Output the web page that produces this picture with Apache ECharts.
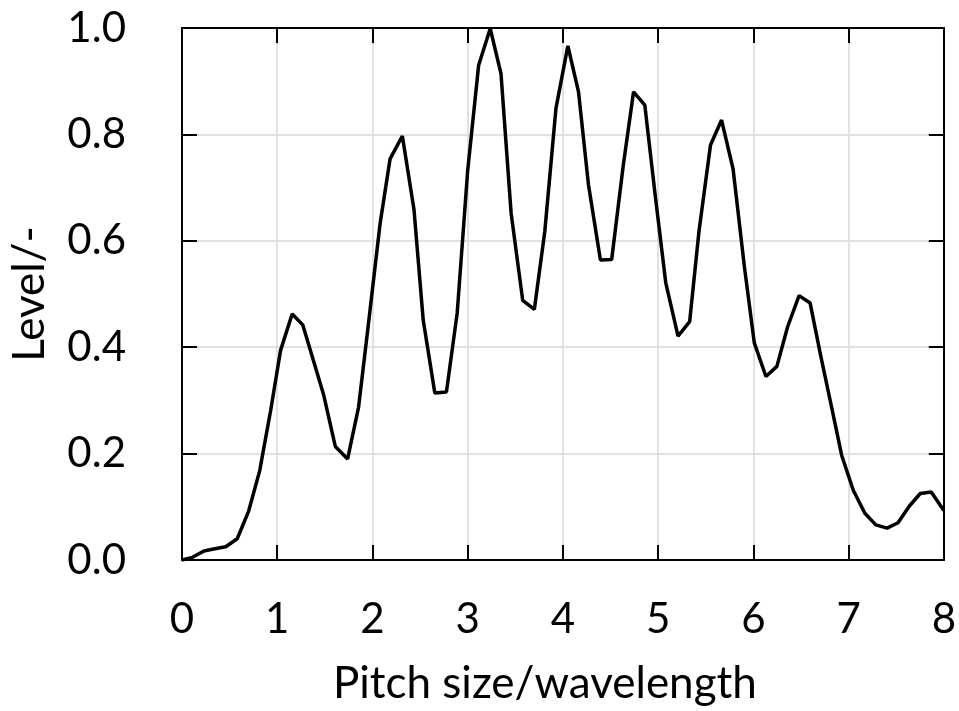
<!DOCTYPE html>
<html>
<head>
<meta charset="utf-8">
<script src="https://cdn.jsdelivr.net/npm/echarts@6/dist/echarts.min.js"></script>
<style>
  html, body { margin: 0; padding: 0; background: #fff; }
  #chart { width: 959px; height: 711px; }
</style>
</head>
<body>
<div id="chart"></div>
<script>
// pitch size / wavelength
const pitch = [
  0, 0.11, 0.23, 0.345, 0.46, 0.58, 0.70, 0.815, 0.93, 1.035,
  1.157, 1.268, 1.38, 1.488, 1.61, 1.739, 1.854, 1.958, 2.08, 2.185,
  2.314, 2.436, 2.533, 2.655, 2.777, 2.89, 3.0, 3.115, 3.237, 3.35,
  3.456, 3.578, 3.70, 3.81, 3.927, 4.052, 4.164, 4.268, 4.394, 4.512,
  4.634, 4.742, 4.86, 4.965, 5.08, 5.209, 5.331, 5.429, 5.55, 5.666,
  5.787, 5.906, 6.01, 6.132, 6.247, 6.359, 6.48, 6.596, 6.707, 6.822,
  6.927, 7.049, 7.171, 7.286, 7.404, 7.519, 7.641, 7.753, 7.868, 8.0
]
// normalised level
const level = [
  0, 0.005, 0.017, 0.021, 0.025, 0.04, 0.092, 0.167, 0.28, 0.394,
  0.4625, 0.442, 0.375, 0.31, 0.2135, 0.19, 0.287, 0.444, 0.632, 0.754,
  0.797, 0.659, 0.451, 0.314, 0.316, 0.4645, 0.732, 0.93, 0.999, 0.914,
  0.652, 0.488, 0.471, 0.618, 0.849, 0.9665, 0.88, 0.706, 0.564, 0.565,
  0.742, 0.88, 0.855, 0.692, 0.521, 0.421, 0.448, 0.618, 0.78, 0.827,
  0.735, 0.551, 0.408, 0.345, 0.364, 0.438, 0.497, 0.483, 0.384, 0.287,
  0.197, 0.131, 0.088, 0.066, 0.06, 0.07, 0.102, 0.125, 0.128, 0.093
]

const chart = echarts.init(document.getElementById('chart'))
const font = 'Lato, "Open Sans", sans-serif'
const axisLine = { show: true, onZero: false, lineStyle: { color: '#000', width: 2 } }
const ticks = { show: true, inside: true, length: 15, lineStyle: { color: '#000', width: 2 } }
const grid = { show: true, lineStyle: { color: '#d9d9d9', width: 1.5 } }

const option = {
  animation: false,
  grid: { left: 182, right: 11, top: 28, bottom: 151 },
  xAxis: [
    {
      type: 'value', min: 0, max: 8, interval: 1,
      name: 'Pitch size/wavelength', nameLocation: 'middle', nameGap: 102,
      nameTextStyle: { color: '#000', fontSize: 44, fontFamily: font, padding: [0, 36, 0, 0] },
      axisLine: axisLine, axisTick: ticks, splitLine: grid,
      axisLabel: { color: '#000', fontSize: 42, fontFamily: font, margin: 38 }
    },
    {
      type: 'value', min: 0, max: 8, interval: 1, position: 'top',
      axisLine: axisLine, axisTick: ticks, splitLine: { show: false },
      axisLabel: { show: false }
    }
  ],
  yAxis: [
    {
      type: 'value', min: 0, max: 1, interval: 0.2,
      name: 'Level/-', nameLocation: 'middle', nameGap: 130,
      nameTextStyle: { color: '#000', fontSize: 44, fontFamily: font },
      axisLine: axisLine, axisTick: ticks, splitLine: grid,
      axisLabel: { color: '#000', fontSize: 42, fontFamily: font, margin: 56,
        formatter: v => v.toFixed(1) }
    },
    {
      type: 'value', min: 0, max: 1, interval: 0.2, position: 'right',
      axisLine: axisLine, axisTick: ticks, splitLine: { show: false },
      axisLabel: { show: false }
    }
  ],
  series: [
    {
      type: 'line',
      data: pitch.map((p, i) => [p, level[i]]),
      showSymbol: false,
      lineStyle: { color: '#000', width: 3.5 },
      clip: false
    }
  ]
}
chart.setOption(option)
</script>
</body>
</html>
